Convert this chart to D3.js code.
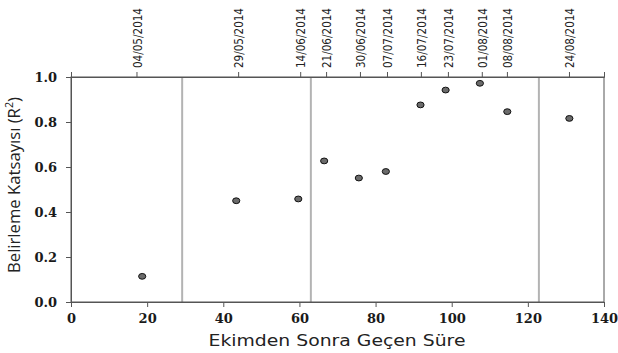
<!DOCTYPE html>
<html>
<head>
<script src="https://d3js.org/d3.v7.min.js"></script>
<style>
  body { margin: 0; background: #fff; }
</style>
</head>
<body>
<div id="chart"></div>
<script>
//////////////////////////////////////////////////////////
////////////////////// Data //////////////////////////////
//////////////////////////////////////////////////////////
var days   = [18.7, 43.4, 59.7, 66.5, 75.6, 82.7, 91.8, 98.4, 107.4, 114.6, 130.9];
var r2     = [0.114, 0.450, 0.458, 0.627, 0.551, 0.580, 0.876, 0.942, 0.972, 0.846, 0.816];
var dates  = ["04/05/2014","29/05/2014","14/06/2014","21/06/2014","30/06/2014","07/07/2014",
              "16/07/2014","23/07/2014","01/08/2014","08/08/2014","24/08/2014"];
var dateTickDays = [17.2, 43.9, 60.2, 67.0, 75.9, 83.0, 91.9, 99.0, 107.9, 114.5, 130.8];
var dividers = [29.2, 63.0, 122.9];
var xTicks = [0, 20, 40, 60, 80, 100, 120, 140];
var yTicks = [0, 0.2, 0.4, 0.6, 0.8, 1.0];

//////////////////////////////////////////////////////////
////////////////////// Set-up ////////////////////////////
//////////////////////////////////////////////////////////
var W = 618, H = 353;
var margin = {left: 71, top: 77, right: 14, bottom: 51};
var width = W - margin.left - margin.right,
    height = H - margin.top - margin.bottom;

var serif = "'DejaVu Serif', serif";
var narrow = "'DejaVu Sans Condensed', 'Open Sans', sans-serif";

var svg = d3.select("#chart").append("svg")
    .attr("width", W).attr("height", H);

var g = svg.append("g")
    .attr("transform", "translate(" + margin.left + "," + margin.top + ")");

var x = d3.scaleLinear().domain([0, 140]).range([0, width]);
var y = d3.scaleLinear().domain([0, 1]).range([height, 0]);

var axisColor = "#555";

// vertical dividers
g.selectAll("line.div")
  .data(dividers)
  .enter().append("line")
  .attr("class", "div")
  .attr("x1", d => x(d)).attr("x2", d => x(d))
  .attr("y1", 0).attr("y2", height)
  .attr("stroke", "#b3b3b3")
  .attr("stroke-width", 2);

// frame
g.append("rect")
  .attr("width", width).attr("height", height)
  .attr("fill", "none")
  .attr("stroke", axisColor)
  .attr("stroke-width", 1);

// bottom axis
var xAxis = g.append("g")
  .attr("transform", "translate(0," + height + ")")
  .call(d3.axisBottom(x).tickValues(xTicks).tickSize(5).tickPadding(7).tickFormat(d3.format("d")));
xAxis.selectAll("text")
  .style("font-family", serif).style("font-weight", "bold").style("font-size", "13px")
  .attr("fill", "#1a1a1a");

// left axis
var yAxis = g.append("g")
  .call(d3.axisLeft(y).tickValues(yTicks).tickSize(5).tickPadding(9).tickFormat(d3.format(".1f")));
yAxis.selectAll("text")
  .style("font-family", serif).style("font-weight", "bold").style("font-size", "13px")
  .attr("fill", "#1a1a1a");

// top axis with dates
var topAxis = g.append("g")
  .call(d3.axisTop(x).tickValues(dateTickDays).tickSize(5).tickPadding(4)
        .tickFormat((d, i) => dates[i]));
topAxis.selectAll("text")
  .style("font-family", narrow).style("font-size", "13px")
  .attr("fill", "#222")
  .attr("transform", "rotate(-90)")
  .attr("text-anchor", "start")
  .attr("x", 9).attr("y", 0).attr("dy", "0.35em")
  .attr("textLength", 60).attr("lengthAdjust", "spacingAndGlyphs");

[xAxis, yAxis, topAxis].forEach(a => {
  a.select(".domain").attr("stroke", axisColor);
  a.selectAll(".tick line").attr("stroke", axisColor);
});

// points
g.selectAll("ellipse.pt")
  .data(days)
  .enter().append("ellipse")
  .attr("class", "pt")
  .attr("cx", d => x(d))
  .attr("cy", (d, i) => y(r2[i]))
  .attr("rx", 3.6).attr("ry", 2.9)
  .attr("fill", "#6b6b6b")
  .attr("stroke", "#111")
  .attr("stroke-width", 1);

// axis titles
svg.append("text")
  .style("font-family", "'DejaVu Sans', sans-serif").style("font-size", "16px")
  .attr("fill", "#222")
  .attr("x", 337).attr("y", 346)
  .attr("text-anchor", "middle")
  .attr("textLength", 257).attr("lengthAdjust", "spacingAndGlyphs")
  .text("Ekimden Sonra Geçen Süre");

var yt = svg.append("text")
  .style("font-family", "'Open Sans', sans-serif").style("font-size", "17px")
  .attr("fill", "#222")
  .attr("transform", "translate(20,185) rotate(-90)")
  .attr("text-anchor", "middle")
  .attr("textLength", 176).attr("lengthAdjust", "spacingAndGlyphs");
yt.append("tspan").text("Belirleme Katsayısı (R");
yt.append("tspan").attr("baseline-shift", "super").style("font-size", "11px").text("2");
yt.append("tspan").text(")");
</script>
</body>
</html>
